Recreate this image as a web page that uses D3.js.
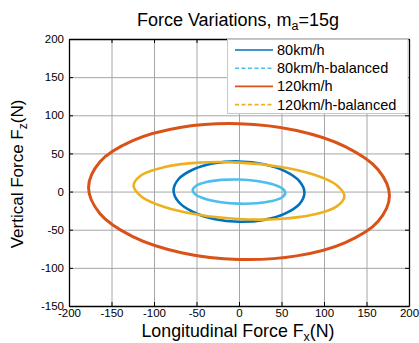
<!DOCTYPE html>
<html>
<head>
<meta charset="utf-8">
<script src="https://cdn.jsdelivr.net/npm/d3@7"></script>
<style>
  body { margin: 0; background: #fff; }
  svg { display: block; font-family: "Liberation Sans", Arial, sans-serif; }
</style>
</head>
<body>
<svg id="chart"></svg>
<script>
// tick values
var xTicks = [-200, -150, -100, -50, 0, 50, 100, 150, 200];
var yTicks = [-150, -100, -50, 0, 50, 100, 150, 200];

// legend names
var seriesNames = ['80km/h', '80km/h-balanced', '120km/h', '120km/h-balanced'];

// orbit points: [Fx, Fz]
var orbit80 = [[77, -1.5], [71, 13.7], [54, 26.8], [29.5, 35.9], [0, 39.5], [-29.5, 37.1], [-54, 29], [-71, 16.5],
    [-77, 1.5], [-71, -13.7], [-54, -26.8], [-29.5, -35.9], [0, -39.5], [29.5, -37.1], [54, -29], [71, -16.5]];
var orbit80bal = [[54.5, -1.7], [50.4, 4.5], [38.5, 10], [20.9, 13.9], [0, 15.8], [-20.9, 15.3], [-38.5, 12.4], [-50.4, 7.7],
    [-54.5, 1.7], [-50.4, -4.5], [-38.5, -10], [-20.9, -13.9], [0, -15.8], [20.9, -15.3], [38.5, -12.4], [50.4, -7.7]];
var orbit120 = [[177, -5.5], [163.5, 29], [125, 59], [67.7, 80.1], [0, 89], [-67.7, 84.3], [-125, 66.8], [-163.5, 39.2],
    [-177, 5.5], [-163.5, -29], [-125, -59], [-67.7, -80.1], [0, -89], [67.7, -84.3], [125, -66.8], [163.5, -39.2]];
var orbit120bal = [[124, -6], [114.6, 8.7], [87.7, 22.3], [47.5, 32.5], [0, 38], [-47.5, 37.9], [-87.7, 32.1], [-114.6, 21.7],
    [-124, 8], [-114.6, -6.7], [-87.7, -20.3], [-47.5, -30.5], [0, -36], [47.5, -35.9], [87.7, -30.1], [114.6, -19.7]];

var orbits = [orbit80, orbit80bal, orbit120, orbit120bal];
var colors = ['#0072BD', '#4DBEEE', '#D95319', '#EDB120'];
var dashed = [false, true, false, true];

var width = 419;
var height = 343;
// plot box (note: "top" is taken by window.top)
var plotLeft = 69, plotRight = 409, plotTop = 39, plotBottom = 306;

var svg = d3.select('#chart')
    .attr('width', width)
    .attr('height', height);

var x = d3.scaleLinear()
    .domain([-200, 200])
    .range([plotLeft, plotRight]);

var y = d3.scaleLinear()
    .domain([-150, 200])
    .range([plotBottom, plotTop]);

var plain = function(d) { return String(d); };

// grid
svg.append('g')
    .attr('transform', 'translate(0,' + plotBottom + ')')
    .call(d3.axisBottom(x).tickValues(xTicks).tickSize(-(plotBottom - plotTop)).tickFormat(''))
    .call(function(g) {
        g.select('.domain').remove();
        g.selectAll('line').attr('stroke', '#a6a6a6').attr('stroke-width', 1);
    });

svg.append('g')
    .attr('transform', 'translate(' + plotLeft + ',0)')
    .call(d3.axisLeft(y).tickValues(yTicks).tickSize(-(plotRight - plotLeft)).tickFormat(''))
    .call(function(g) {
        g.select('.domain').remove();
        g.selectAll('line').attr('stroke', '#a6a6a6').attr('stroke-width', 1);
    });

// orbits
var line = d3.line()
    .x(function(d) { return x(d[0]); })
    .y(function(d) { return y(d[1]); })
    .curve(d3.curveCatmullRomClosed);

svg.append('g')
    .selectAll('path')
    .data(orbits)
    .enter()
    .append('path')
    .attr('d', line)
    .attr('fill', 'none')
    .attr('stroke', function(d, i) { return colors[i]; })
    .attr('stroke-width', function(d, i) { return i == 2 ? 3 : 2.6; });

// axes, ticks inside like matlab
function styleAxis(g) {
    g.select('.domain').attr('stroke', '#000').attr('stroke-width', 1.3);
    g.selectAll('.tick line').attr('stroke', '#000');
    g.selectAll('text').attr('fill', '#000').attr('font-size', '11.5px').attr('font-family', null);
}

svg.append('g')
    .attr('transform', 'translate(0,' + plotBottom + ')')
    .call(d3.axisBottom(x).tickValues(xTicks).tickFormat(plain).tickSizeInner(-4).tickSizeOuter(0).tickPadding(3))
    .call(styleAxis);

svg.append('g')
    .attr('transform', 'translate(' + plotLeft + ',0)')
    .call(d3.axisLeft(y).tickValues(yTicks).tickFormat(plain).tickSizeInner(-4).tickSizeOuter(0).tickPadding(5))
    .call(styleAxis);

svg.append('g')
    .attr('transform', 'translate(0,' + plotTop + ')')
    .call(d3.axisTop(x).tickValues(xTicks).tickSizeInner(-4).tickSizeOuter(0).tickFormat(''))
    .call(styleAxis);

svg.append('g')
    .attr('transform', 'translate(' + plotRight + ',0)')
    .call(d3.axisRight(y).tickValues(yTicks).tickSizeInner(-4).tickSizeOuter(0).tickFormat(''))
    .call(styleAxis);

// legend
var legend = svg.append('g');

legend.append('rect')
    .attr('x', 227.5)
    .attr('y', plotTop + 0.5)
    .attr('width', plotRight - 228.5)
    .attr('height', 74)
    .attr('fill', '#fff')
    .attr('stroke', '#c8c8c8');

var rows = legend.selectAll('g.row')
    .data(seriesNames)
    .enter()
    .append('g')
    .attr('class', 'row')
    .attr('transform', function(d, i) { return 'translate(0,' + (50 + i * 18.2) + ')'; });

rows.append('line')
    .attr('x1', 235)
    .attr('x2', 273)
    .attr('stroke', function(d, i) { return colors[i]; })
    .attr('stroke-width', 1.6)
    .attr('stroke-dasharray', function(d, i) { return dashed[i] ? '4,2.5' : null; });

rows.append('text')
    .attr('x', 277)
    .attr('dy', '0.35em')
    .attr('font-size', '14.5px')
    .text(function(d) { return d; });

// titles
var title = svg.append('text')
    .attr('x', 238)
    .attr('y', 26)
    .attr('text-anchor', 'middle')
    .attr('font-size', '18px');
title.append('tspan').text('Force Variations, m');
title.append('tspan').attr('dy', 4).attr('font-size', '12.5px').text('a');
title.append('tspan').attr('dy', -4).text('=15g');

var xTitle = svg.append('text')
    .attr('x', 238)
    .attr('y', 337)
    .attr('text-anchor', 'middle')
    .attr('font-size', '17.8px');
xTitle.append('tspan').text('Longitudinal Force F');
xTitle.append('tspan').attr('dy', 4).attr('font-size', '12.5px').text('x');
xTitle.append('tspan').attr('dy', -4).text('(N)');

var yTitle = svg.append('text')
    .attr('transform', 'translate(23,174) rotate(-90)')
    .attr('text-anchor', 'middle')
    .attr('font-size', '17px');
yTitle.append('tspan').text('Vertical Force F');
yTitle.append('tspan').attr('dy', 4).attr('font-size', '12px').text('z');
yTitle.append('tspan').attr('dy', -4).text('(N)');
</script>
</body>
</html>
